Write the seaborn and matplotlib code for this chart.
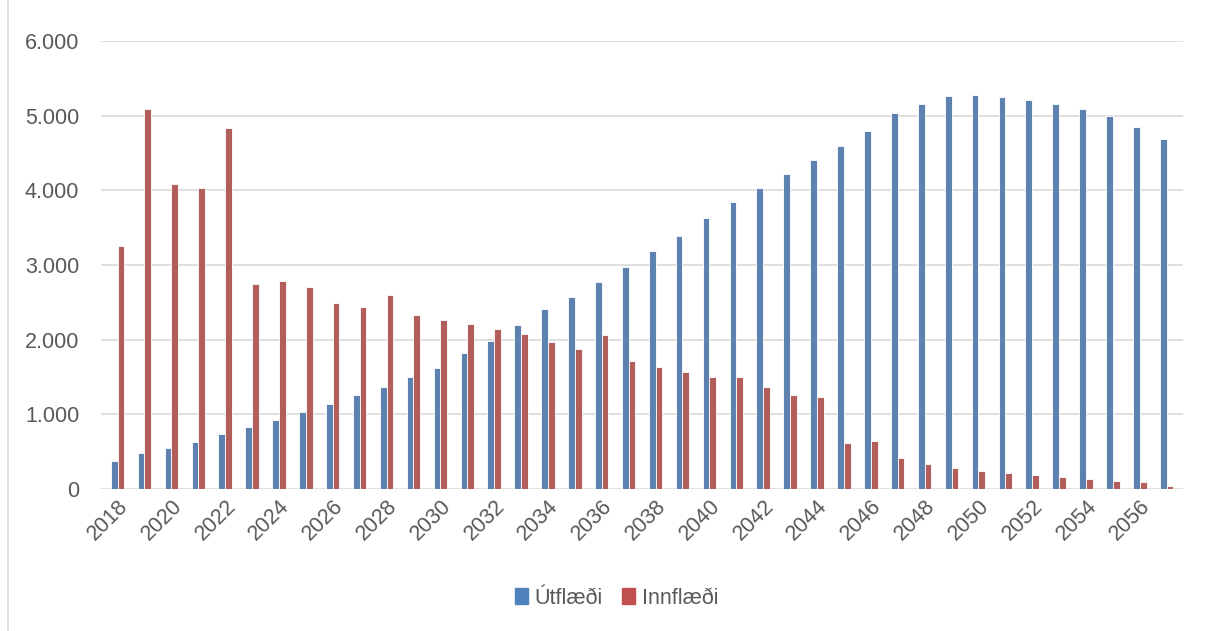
import pandas as pd
import matplotlib.pyplot as plt
import matplotlib.patches as mpatches
from matplotlib.ticker import FuncFormatter
import seaborn as sns

years = list(range(2018, 2058))
utflaedi = [380, 480, 550, 630, 740, 830, 930, 1030, 1140, 1255, 1365, 1500,
            1625, 1825, 1985, 2200, 2405, 2575, 2775, 2975, 3190, 3385, 3630,
            3840, 4030, 4220, 4405, 4600, 4790, 5030, 5155, 5260, 5280, 5250,
            5205, 5155, 5095, 4995, 4850, 4690]
innflaedi = [3260, 5090, 4080, 4035, 4830, 2745, 2780, 2710, 2485, 2435, 2595,
             2330, 2265, 2205, 2145, 2080, 1975, 1875, 2065, 1720, 1635, 1570,
             1500, 1500, 1365, 1265, 1235, 615, 640, 410, 335, 280, 245, 210,
             190, 160, 130, 110, 90, 45]
series_names = ["Útflæði", "Innflæði"]
colors = ["#4F81BD", "#C0504D"]

df = pd.DataFrame({
    "year": [str(y) for y in years] * 2,
    "value": utflaedi + innflaedi,
    "series": [series_names[0]] * len(years) + [series_names[1]] * len(years),
})

sns.set_theme(style="white")
plt.rcParams['font.family'] = ['Liberation Sans', 'DejaVu Sans']

fig = plt.figure(figsize=(12.07, 6.31), dpi=100)
ax = fig.add_axes([0.084, 0.225, 0.896, 0.71])

sns.barplot(data=df, x="year", y="value", hue="series", palette=colors,
            width=0.5, edgecolor="white", linewidth=0.6, ax=ax, legend=False)

ax.set_ylim(0, 6000)
ax.set_yticks(range(0, 6001, 1000))
ax.yaxis.set_major_formatter(FuncFormatter(lambda v, p: f"{int(v):,}".replace(",", ".")))
ax.yaxis.grid(True, color="#D9D9D9", linewidth=1.2)
ax.set_axisbelow(True)
for s in ax.spines.values():
    s.set_visible(False)
ax.set_xlim(-0.6, len(years) - 0.4)

ax.set_xticks(range(0, len(years), 2))
ax.set_xticklabels([str(y) for y in years[::2]], rotation=45, ha="right",
                   rotation_mode="anchor")
ax.tick_params(axis="both", length=0, labelsize=15.5, colors="#595959")
ax.tick_params(axis="x", pad=5)
ax.tick_params(axis="y", pad=16)
ax.set_xlabel("")
ax.set_ylabel("")

handles = [mpatches.Patch(color=c, label=n) for c, n in zip(colors, series_names)]
fig.legend(handles=handles, loc="center", bbox_to_anchor=(0.511, 0.052), ncol=2,
           frameon=False, fontsize=15.5, handlelength=0.6, handleheight=0.75,
           handletextpad=0.3, columnspacing=0.9, labelcolor="#595959")

# chart border on the left
fig.add_artist(plt.Line2D([0.007, 0.007], [0, 1], color="#D9D9D9", linewidth=1.2,
                          transform=fig.transFigure))

fig.savefig("out.png", dpi=100)
